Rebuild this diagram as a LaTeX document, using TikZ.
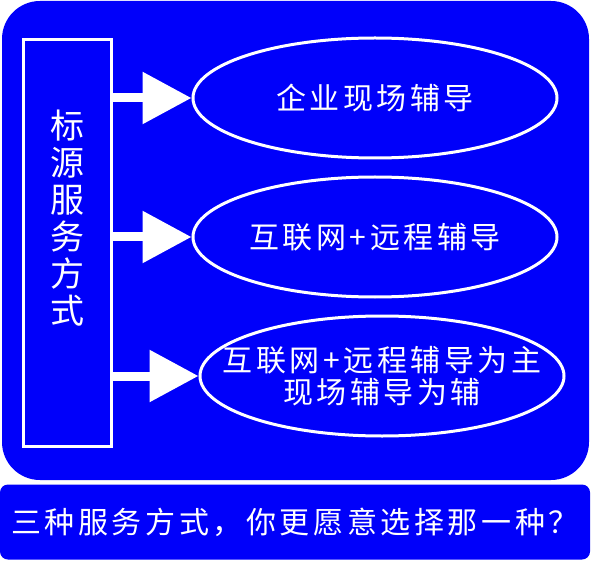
\documentclass[tikz,border=0pt]{standalone}
\usepackage{fontspec}
\newfontfamily\cjk{Noto Sans CJK SC}
\newfontfamily\cjkwide{Noto Sans CJK SC}[LetterSpace=12]
\usetikzlibrary{shapes.geometric,arrows.meta}
\definecolor{mainblue}{RGB}{0,0,250}
\tikzset{
  panel/.style={fill=mainblue, draw=none},
  srcbox/.style={draw=white, line width=3pt, rectangle, minimum width=88pt, minimum height=406pt, inner sep=0pt},
  choice/.style={draw=white, line width=3pt, ellipse, minimum width=364pt, minimum height=120pt, inner sep=0pt},
  choicetext/.style={text=white, font=\cjkwide\fontsize{30pt}{32pt}\selectfont, align=center, inner sep=0pt},
  flow/.style={draw=white, line width=9pt, -{Triangle[width=50pt,length=49pt]}},
}
\begin{document}
\begin{tikzpicture}[x=1pt,y=-1pt]
\useasboundingbox (0,0) rectangle (591,561);
% main panel
\fill[panel, rounded corners=38pt] (2,1) rectangle (589,480);
% bottom bar
\node[panel, rounded corners=8pt, minimum width=590pt, minimum height=75pt, inner sep=0pt,
      text=white, font=\cjkwide\fontsize{30pt}{32pt}\selectfont, anchor=center] (bar) at (295,522)
      {三种服务方式，你更愿意选择那一种？};
% source box
\node[srcbox] (src) at (67,243) {};
\node[text=white, font=\cjk\fontsize{34pt}{37pt}\selectfont, align=center, inner sep=0pt] (srclbl) at (67,218)
  {标\\源\\服\\务\\方\\式};
% choices
\node[choice, label={[choicetext]center:企业现场辅导}] (e1) at (375,98) {};
\node[choice, label={[choicetext]center:互联网+远程辅导}] (e2) at (375,237) {};
\node[choice, label={[choicetext]center:互联网+远程辅导为主\\现场辅导为辅}] (e3) at (382,376) {};
% connectors
\draw[flow] (src.east |- e1.west) -- (e1.west);
\draw[flow] (src.east |- e2.west) -- (e2.west);
\draw[flow] (src.east |- e3.west) -- (e3.west);
\end{tikzpicture}
\end{document}
